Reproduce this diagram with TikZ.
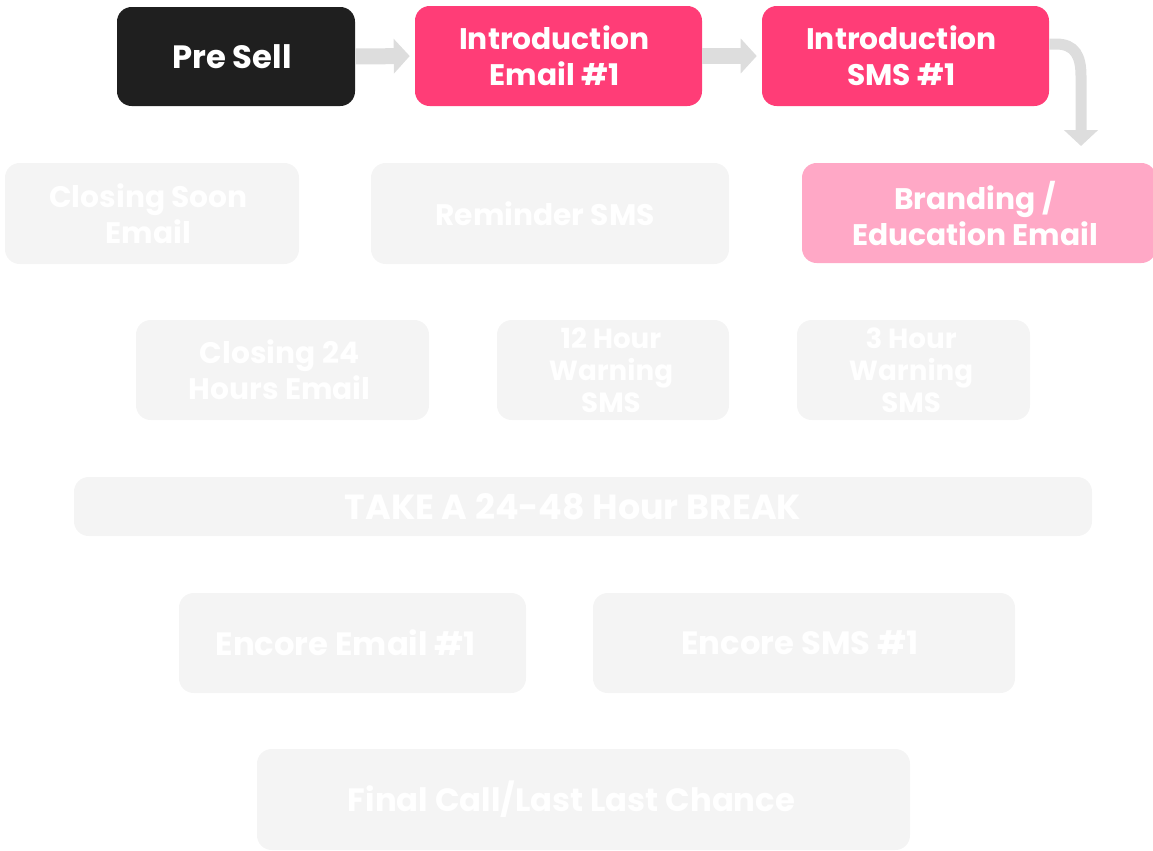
\documentclass[tikz,border=0pt]{standalone}
\usepackage{fontspec}
\setmainfont{Poppins}
\usetikzlibrary{arrows.meta}
\definecolor{boxblack}{HTML}{1F1F1F}
\definecolor{boxpink}{HTML}{FF3D77}
\definecolor{boxlight}{HTML}{FFA8C6}
\definecolor{boxgray}{HTML}{F4F4F4}
\definecolor{arrgray}{HTML}{DDDDDD}
\tikzset{
  stepbox/.style={rectangle, rounded corners=11pt, inner sep=0pt},
  boxtext/.style={inner sep=0pt, align=center, text=white,
    font=\bfseries\fontsize{22.3}{27}\selectfont},
  bigtext/.style={font=\bfseries\fontsize{24.2}{28}\selectfont},
  smalltext/.style={font=\bfseries\fontsize{20.8}{24}\selectfont},
  flowarrow/.style={draw=arrgray, line width=12pt,
    -{Triangle[width=25.5pt, length=12pt]}, shorten >=3.75pt},
}
\begin{document}
\begin{tikzpicture}[x=0.75pt, y=-0.75pt]
\useasboundingbox (0,0) rectangle (1153,850);
\begin{scope}
\clip (0,0) rectangle (1153,850);
% top row
\node[stepbox, fill=boxblack, minimum width=178.5pt, minimum height=74.25pt,
  label={[boxtext, bigtext, name=preT, xshift=-3pt]center:{Pre Sell}}] (pre) at (236,56.5) {};
\node[stepbox, fill=boxpink, minimum width=215.25pt, minimum height=75pt,
  label={[boxtext, name=intro1T, xshift=-3pt]center:{Introduction\\Email \#1}}] (intro1) at (558.5,56) {};
\node[stepbox, fill=boxpink, minimum width=215.25pt, minimum height=75pt,
  label={[boxtext, name=intro2T, xshift=-3pt]center:{Introduction\\SMS \#1}}] (intro2) at (905.5,56) {};
% second row
\node[stepbox, fill=boxlight, minimum width=265.5pt, minimum height=75pt,
  label={[boxtext, name=brandT, xshift=-3pt]center:{Branding /\\Education Email}}] (brand) at (979,213) {};
\node[stepbox, fill=boxgray, minimum width=220.5pt, minimum height=75.75pt,
  label={[boxtext, name=soonT, xshift=-2.6pt]center:{Closing Soon\\Email}}] (soon) at (152,213.5) {};
\node[stepbox, fill=boxgray, minimum width=268.5pt, minimum height=75.75pt,
  label={[boxtext, name=remindT, xshift=-3.7pt]center:{Reminder SMS}}] (remind) at (550,213.5) {};
% third row
\node[stepbox, fill=boxgray, minimum width=219.75pt, minimum height=75pt,
  label={[boxtext, name=close24T, xshift=-2.2pt]center:{Closing 24\\Hours Email}}] (close24) at (282.5,370) {};
\node[stepbox, fill=boxgray, minimum width=174pt, minimum height=75pt,
  label={[boxtext, smalltext, name=warn12T, xshift=-1.5pt]center:{12 Hour\\Warning\\SMS}}] (warn12) at (613,370) {};
\node[stepbox, fill=boxgray, minimum width=174.75pt, minimum height=75pt,
  label={[boxtext, smalltext, name=warn3T, xshift=-1.8pt]center:{3 Hour\\Warning\\SMS}}] (warn3) at (913.5,370) {};
% break
\node[stepbox, fill=boxgray, minimum width=763.5pt, minimum height=44.25pt,
  label={[boxtext, font=\bfseries\fontsize{26.2}{30}\selectfont, name=brkT, xshift=-7.5pt]center:{TAKE A 24-48 Hour BREAK}}] (brk) at (583,506.5) {};
% encore
\node[stepbox, fill=boxgray, minimum width=260.25pt, minimum height=75pt,
  label={[boxtext, bigtext, name=encmailT, xshift=-5pt]center:{Encore Email \#1}}] (encmail) at (352.5,643) {};
\node[stepbox, fill=boxgray, minimum width=316.5pt, minimum height=75pt,
  label={[boxtext, bigtext, name=encsmsT, xshift=-3pt]center:{Encore SMS \#1}}] (encsms) at (804,643) {};
% final
\node[stepbox, fill=boxgray, minimum width=489.75pt, minimum height=75.75pt,
  label={[boxtext, bigtext, name=finalT, xshift=-9pt]center:{Final Call/Last Last Chance}}] (final) at (583.5,799.5) {};
% arrows
\draw[flowarrow] (pre.east) -- (intro1.west);
\draw[flowarrow] (intro1.east) -- (intro2.west);
\coordinate (turn) at (1081,146);
\draw[draw=arrgray, line width=8.25pt, -{Triangle[width=25pt, length=12pt]}]
  ([yshift=9pt]intro2.east) -- (1056,44) .. controls (1075,44) and (1081,56) .. (1081,76) -- (turn);
\end{scope}
\end{tikzpicture}
\end{document}
